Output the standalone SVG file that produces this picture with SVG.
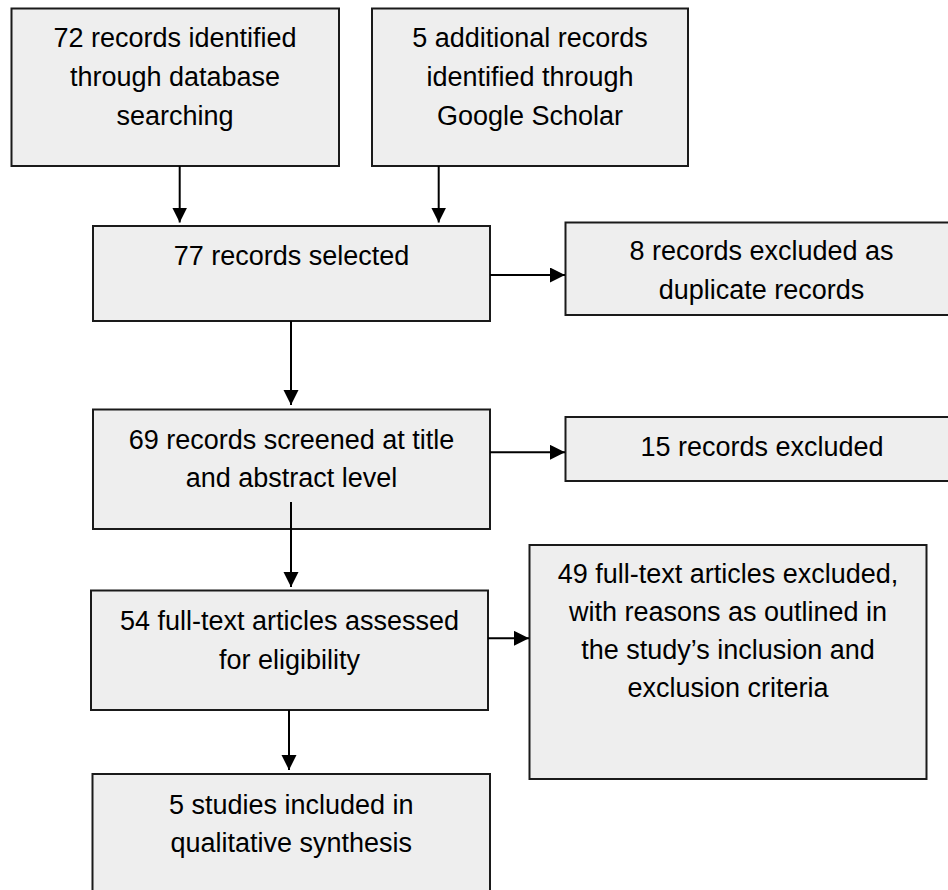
<svg xmlns="http://www.w3.org/2000/svg" width="948" height="890" viewBox="0 0 948 890">
<style>
.box{fill:#eeeeee;stroke:#1a1a1a;stroke-width:2}
.t{font-family:"Liberation Sans",Arial,sans-serif;font-size:27px;fill:#000;text-anchor:middle}
.c{stroke:#000;stroke-width:2;fill:none;marker-end:url(#ah)}
</style>
<defs>
<marker id="ah" markerUnits="userSpaceOnUse" markerWidth="16" markerHeight="16" refX="15" refY="7.5" orient="auto">
<path d="M0,0 L15,7.5 L0,15 z" fill="#000"/>
</marker>
</defs>
<rect width="948" height="890" fill="#fff"/>
<g id="n1"><rect class="box" x="11.5" y="8.5" width="327.5" height="157.5"/>
<text class="t" x="175" y="47">72 records identified</text>
<text class="t" x="175" y="86">through database</text>
<text class="t" x="175" y="125">searching</text></g>
<g id="n2"><rect class="box" x="372" y="8.5" width="316" height="157.5"/>
<text class="t" x="530" y="47">5 additional records</text>
<text class="t" x="530" y="86">identified through</text>
<text class="t" x="530" y="125">Google Scholar</text></g>
<g id="n3"><rect class="box" x="93" y="226" width="397" height="95"/>
<text class="t" x="291.5" y="265">77 records selected</text></g>
<g id="n4"><rect class="box" x="565.5" y="222.5" width="392" height="92.5"/>
<text class="t" x="761.5" y="260">8 records excluded as</text>
<text class="t" x="761.5" y="298.5">duplicate records</text></g>
<g id="n5"><rect class="box" x="93" y="409.5" width="397" height="119.5"/>
<text class="t" x="291.5" y="448.5">69 records screened at title</text>
<text class="t" x="291.5" y="487">and abstract level</text></g>
<g id="n6"><rect class="box" x="565.5" y="417" width="392" height="64"/>
<text class="t" x="762" y="456">15 records excluded</text></g>
<g id="n7"><rect class="box" x="91" y="590.5" width="397" height="119.5"/>
<text class="t" x="289.5" y="630">54 full-text articles assessed</text>
<text class="t" x="289.5" y="669">for eligibility</text></g>
<g id="n8"><rect class="box" x="529.5" y="545" width="397" height="234"/>
<text class="t" x="728" y="583">49 full-text articles excluded,</text>
<text class="t" x="728" y="621">with reasons as outlined in</text>
<text class="t" x="728" y="659">the study’s inclusion and</text>
<text class="t" x="728" y="697">exclusion criteria</text></g>
<g id="n9"><rect class="box" x="92.5" y="774" width="397.5" height="130"/>
<text class="t" x="291.3" y="813.5">5 studies included in</text>
<text class="t" x="291.3" y="852">qualitative synthesis</text></g>
<g id="connectors">
<line class="c" x1="179.7" y1="166" x2="179.7" y2="222.5"/>
<line class="c" x1="438.7" y1="166" x2="438.7" y2="222.5"/>
<line class="c" x1="490" y1="275" x2="565" y2="275"/>
<line class="c" x1="291" y1="321" x2="291" y2="405"/>
<line class="c" x1="490" y1="452.3" x2="565" y2="452.3"/>
<line class="c" x1="291" y1="502" x2="291" y2="587"/>
<line class="c" x1="488" y1="638.3" x2="529" y2="638.3"/>
<line class="c" x1="289" y1="710" x2="289" y2="770"/>
</g>
</svg>
